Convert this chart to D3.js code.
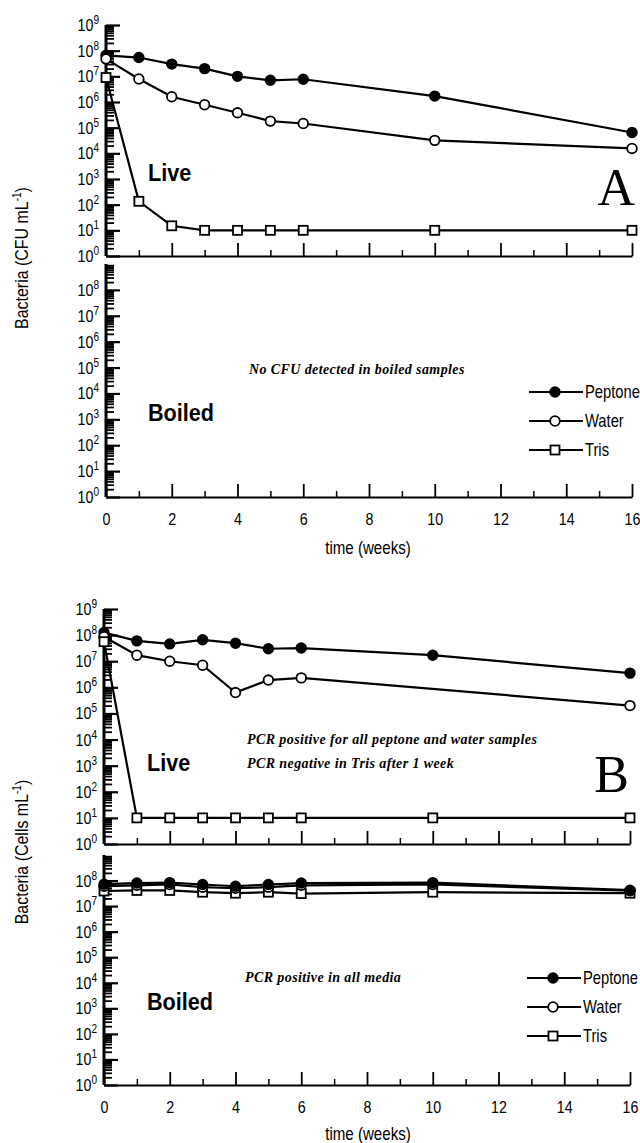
<!DOCTYPE html>
<html>
<head>
<meta charset="utf-8">
<script src="https://cdn.jsdelivr.net/npm/d3@7"></script>
<style>
  body { margin: 0; background: #fff; }
  svg { display: block; }
  .sans { font-family: "Liberation Sans", Arial, sans-serif; }
  .note { font-family: "Liberation Serif", "Times New Roman", serif; font-style: italic; font-weight: bold; font-size: 14px; letter-spacing: 0.4px; }
</style>
</head>
<body>
<svg id="chart" width="640" height="1143"></svg>
<script>
// sampling times (weeks)
var weeks = [0, 1, 2, 3, 4, 5, 6, 10, 16];
var seriesNames = ["Peptone", "Water", "Tris"];
var xTicks = [0, 2, 4, 6, 8, 10, 12, 14, 16];

// Panel A: culturable counts (CFU/mL), live cells
var livePeptoneA = [6.6e7, 5.4e7, 3e7, 2e7, 1e7, 7e6, 7.7e6, 1.7e6, 6.5e4];
var liveWaterA   = [4.8e7, 7.9e6, 1.6e6, 7.8e5, 3.8e5, 1.8e5, 1.45e5, 3.2e4, 1.55e4];
var liveTrisA    = [9e6, 135, 15, 10, 10, 10, 10, 10, 10];
// boiled samples: no CFU detected, nothing plotted

// Panel B: total cells (cells/mL)
var livePeptoneB = [1.25e8, 6e7, 4.6e7, 6.6e7, 4.9e7, 3e7, 3.2e7, 1.7e7, 3.5e6];
var liveWaterB   = [8.7e7, 1.7e7, 1e7, 7e6, 6.3e5, 1.9e6, 2.3e6, null, 2e5];
var liveTrisB    = [5.6e7, 10, 10, 10, 10, 10, 10, 10, 10];
var boiledPeptoneB = [7.2e7, 8e7, 8.3e7, 7e7, 6e7, 7e7, 8e7, 8.3e7, 4.2e7];
var boiledWaterB   = [6e7, 6.5e7, 7e7, 5.5e7, 5e7, 5.5e7, 6.5e7, 7e7, 4e7];
var boiledTrisB    = [3.9e7, 4.1e7, 4.1e7, 3.5e7, 3.2e7, 3.5e7, 3.1e7, 3.5e7, 3.2e7];

var svg = d3.select("#chart");
var NARROW = 0.84;

// condensed-looking text: squeeze horizontally around its anchor point
function nText(g, x, y, size, anchor, sx) {
    return g.append("g")
        .attr("transform", "translate(" + x + "," + y + ") scale(" + (sx || NARROW) + ",1)")
        .append("text").attr("class", "sans")
        .attr("text-anchor", anchor || "start")
        .attr("font-size", size + "px");
}

function drawSub(g, x, y, opts) {
    var decades = d3.range(0, 10);
    var majors = decades.map(function(k){ return Math.pow(10, k); });
    var minors = [];
    decades.slice(0, 9).forEach(function(k){
        for (var m = 2; m <= 9; m++) minors.push(m * Math.pow(10, k));
    });

    // y axis minor + major ticks pointing right
    g.append("g")
        .attr("transform", "translate(" + x(0) + ",0)")
        .call(d3.axisRight(y).tickValues(minors).tickSize(8).tickSizeOuter(0).tickFormat(""))
        .call(function(a){ a.select(".domain").remove(); a.selectAll("line").attr("stroke-width", 1.8); });
    g.append("g")
        .attr("transform", "translate(" + x(0) + ",0)")
        .call(d3.axisRight(y).tickValues(majors.slice(0, opts.topLabel ? 10 : 9)).tickSize(14).tickSizeOuter(0).tickFormat(""))
        .call(function(a){ a.select(".domain").remove(); a.selectAll("line").attr("stroke-width", 2.2); });
    g.append("line")
        .attr("x1", x(0)).attr("x2", x(0))
        .attr("y1", y(1)).attr("y2", y(1e9))
        .attr("stroke", "#000").attr("stroke-width", 3);

    // y tick labels with superscripts
    var labs = opts.topLabel ? decades : decades.slice(0, 9);
    labs.forEach(function(k){
        var t = nText(g, x(0) - 7, y(Math.pow(10, k)) + 6, 17, "end");
        t.append("tspan").text("10");
        t.append("tspan").attr("dy", -7).attr("font-size", "12px").text(k);
    });

    // x axis: ticks pointing up
    var baseY = y(1);
    g.append("g")
        .attr("transform", "translate(0," + baseY + ")")
        .call(d3.axisTop(x).tickValues(d3.range(1, 16, 2)).tickSize(6).tickSizeOuter(0).tickFormat(""))
        .call(function(a){ a.select(".domain").remove(); a.selectAll("line").attr("stroke-width", 1.5); });
    g.append("g")
        .attr("transform", "translate(0," + baseY + ")")
        .call(d3.axisTop(x).tickValues(xTicks).tickSize(13).tickSizeOuter(0).tickFormat(""))
        .call(function(a){ a.select(".domain").attr("stroke-width", 2.2); a.selectAll("line").attr("stroke-width", 1.8); });

    if (opts.xLabels) {
        g.append("g")
            .attr("transform", "translate(0," + baseY + ")")
            .call(d3.axisBottom(x).tickValues(xTicks).tickSize(0).tickPadding(16).tickFormat(d3.format("d")))
            .call(function(a){
                a.select(".domain").remove();
                a.selectAll("text").attr("class", "sans").attr("font-size", "17px").attr("fill", "#000")
                    .attr("transform", "scale(" + NARROW + ",1)");
            });
    }
}

function drawSeries(g, x, y, values, kind) {
    var pts = weeks.map(function(w, i){ return {x: w, y: values[i]}; })
        .filter(function(d){ return d.y != null; });
    var line = d3.line().x(function(d){ return x(d.x); }).y(function(d){ return y(d.y); });
    g.append("path").attr("d", line(pts))
        .attr("fill", "none").attr("stroke", "#000").attr("stroke-width", 2.2);
    drawMarkers(g, pts.map(function(d){ return [x(d.x), y(d.y)]; }), kind);
}

function drawMarkers(g, xy, kind) {
    if (kind === "Tris") {
        g.selectAll(null).data(xy).enter().append("rect")
            .attr("x", function(d){ return d[0] - 4.5; }).attr("y", function(d){ return d[1] - 4.5; })
            .attr("width", 9).attr("height", 9)
            .attr("fill", "#fff").attr("stroke", "#000").attr("stroke-width", 1.8);
    } else {
        g.selectAll(null).data(xy).enter().append("circle")
            .attr("cx", function(d){ return d[0]; }).attr("cy", function(d){ return d[1]; })
            .attr("r", 4.8)
            .attr("fill", kind === "Peptone" ? "#000" : "#fff")
            .attr("stroke", "#000").attr("stroke-width", 1.8);
    }
}

function drawLegend(g, lx, ly) {
    seriesNames.forEach(function(name, i){
        var yy = ly + i * 29;
        g.append("line").attr("x1", lx).attr("x2", lx + 54).attr("y1", yy).attr("y2", yy)
            .attr("stroke", "#000").attr("stroke-width", 2.2);
        drawMarkers(g, [[lx + 26, yy]], name);
        nText(g, lx + 56, yy + 6, 18, "start", 0.82).text(name);
    });
}

function bigLabel(g, tx, ty, txt) {
    nText(g, tx, ty, 24, "start", 0.9).attr("font-weight", "bold").text(txt);
}

function yTitle(g, cx, cy, unit) {
    var t = g.append("text").attr("class", "sans")
        .attr("transform", "translate(" + cx + "," + cy + ") rotate(-90) scale(" + NARROW + ",1)")
        .attr("text-anchor", "middle").attr("font-size", "19px");
    t.append("tspan").text("Bacteria (" + unit + " mL");
    t.append("tspan").attr("dy", -7).attr("font-size", "12px").text("-1");
    t.append("tspan").attr("dy", 7).text(")");
}

// ---------- Panel A ----------
var gA = svg.append("g");
var xA = d3.scaleLinear().domain([0, 16]).range([106, 632]);
var yLiveA = d3.scaleLog().domain([1, 1e9]).range([256, 25]);
var yBoilA = d3.scaleLog().domain([1, 1e9]).range([497, 264]);

drawSub(gA, xA, yLiveA, {topLabel: true, xLabels: false});
drawSub(gA, xA, yBoilA, {topLabel: false, xLabels: true});
drawSeries(gA, xA, yLiveA, livePeptoneA, "Peptone");
drawSeries(gA, xA, yLiveA, liveWaterA, "Water");
drawSeries(gA, xA, yLiveA, liveTrisA, "Tris");

bigLabel(gA, 148, 181, "Live");
bigLabel(gA, 148, 421, "Boiled");
gA.append("text").attr("x", 635).attr("y", 205).attr("text-anchor", "end")
    .attr("font-family", "Liberation Serif, Times New Roman, serif").attr("font-size", "52px").text("A");
gA.append("text").attr("class", "note").attr("x", 249).attr("y", 374).text("No CFU detected in boiled samples");
drawLegend(gA, 529, 392);
nText(gA, 368, 554, 18, "middle").text("time (weeks)");
yTitle(gA, 28, 258, "CFU");

// ---------- Panel B ----------
var gB = svg.append("g");
var xB = d3.scaleLinear().domain([0, 16]).range([104, 630]);
var yLiveB = d3.scaleLog().domain([1, 1e9]).range([844, 609]);
var yBoilB = d3.scaleLog().domain([1, 1e9]).range([1085, 855]);

drawSub(gB, xB, yLiveB, {topLabel: true, xLabels: false});
drawSub(gB, xB, yBoilB, {topLabel: false, xLabels: true});
drawSeries(gB, xB, yLiveB, livePeptoneB, "Peptone");
drawSeries(gB, xB, yLiveB, liveWaterB, "Water");
drawSeries(gB, xB, yLiveB, liveTrisB, "Tris");
drawSeries(gB, xB, yBoilB, boiledTrisB, "Tris");
drawSeries(gB, xB, yBoilB, boiledWaterB, "Water");
drawSeries(gB, xB, yBoilB, boiledPeptoneB, "Peptone");

bigLabel(gB, 147, 771, "Live");
bigLabel(gB, 147, 1010, "Boiled");
gB.append("text").attr("x", 629).attr("y", 792).attr("text-anchor", "end")
    .attr("font-family", "Liberation Serif, Times New Roman, serif").attr("font-size", "52px").text("B");
gB.append("text").attr("class", "note").attr("x", 247).attr("y", 744).text("PCR positive for all peptone and water samples");
gB.append("text").attr("class", "note").attr("x", 247).attr("y", 768).text("PCR negative in Tris after 1 week");
gB.append("text").attr("class", "note").attr("x", 245).attr("y", 982).text("PCR positive in all media");
drawLegend(gB, 527, 978);
nText(gB, 368, 1140, 18, "middle").text("time (weeks)");
yTitle(gB, 28, 852, "Cells");
</script>
</body>
</html>
